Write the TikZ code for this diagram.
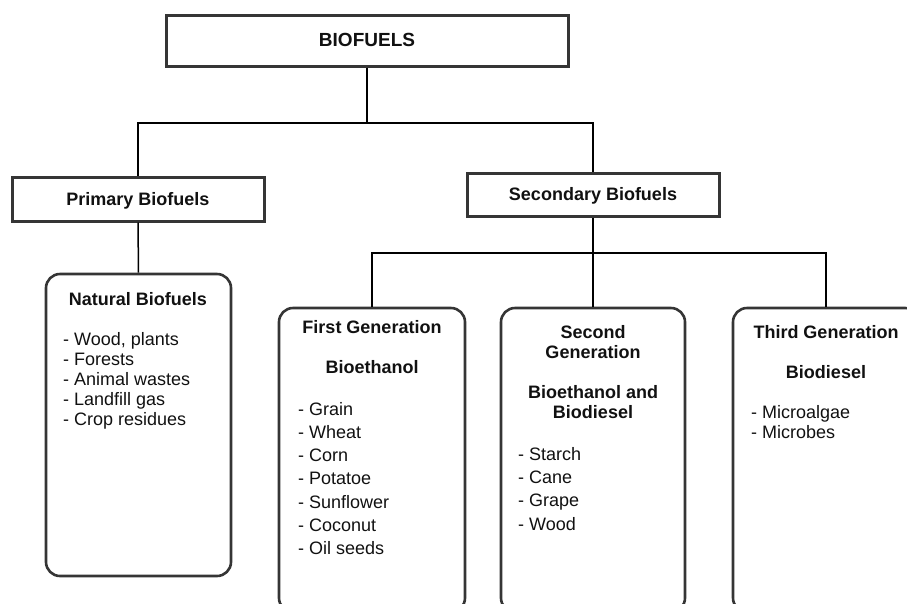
\documentclass[tikz,border=0pt]{standalone}
\usepackage{fontspec}
\setmainfont{Liberation Sans}
\definecolor{boxgray}{HTML}{353535}
\definecolor{inkc}{HTML}{111111}
\begin{document}
\begin{tikzpicture}[x=1pt,y=-1pt,
  hbox/.style={draw=boxgray, line width=3pt, inner sep=0pt, text=inkc,
    font=\fontsize{18}{20}\selectfont\bfseries, text height=12.9pt, text depth=0pt},
  gbox/.style={draw=boxgray, line width=2.6pt, rounded corners=14pt, inner sep=0pt},
  conn/.style={draw=black, line width=1.5pt},
  hd/.style={font=\fontsize{18}{20}\selectfont\bfseries, anchor=base, inner sep=0pt, text=inkc},
  itm/.style={font=\fontsize{18}{20}\selectfont, anchor=base west, inner sep=0pt, text=inkc},
]
\useasboundingbox (0,0) rectangle (907,603);
\clip (0,0) rectangle (907,603);

% top level boxes
\node[hbox, minimum width=402pt, minimum height=51pt, font=\fontsize{19}{20}\selectfont\bfseries] (bio) at (367,40.5) {BIOFUELS};
\node[hbox, minimum width=252pt, minimum height=44pt] (prim) at (138,199) {Primary Biofuels};
\node[hbox, minimum width=252pt, minimum height=43pt] (sec) at (593,194.5) {Secondary Biofuels};

% lower rounded boxes
\node[gbox, minimum width=185pt, minimum height=302pt] (nat) at (138.5,425) {};
\node[gbox, minimum width=186pt, minimum height=304pt] (g1) at (372,460) {};
\node[gbox, minimum width=184pt, minimum height=304pt] (g2) at (593,460) {};
\node[gbox, minimum width=186pt, minimum height=304pt] (g3) at (826,460) {};

% connectors
\coordinate (bar1) at (0,123);
\coordinate (bar2) at (0,253);
\draw[conn] (bio.south) -- (bio.south |- bar1);
\draw[conn] (prim.north) -- (prim.north |- bar1) -- (sec.north |- bar1) -- (sec.north);
\draw[conn] (prim.south) -- (nat.north);
\draw[conn] (sec.south) -- (sec.south |- bar2);
\draw[conn] (g1.north) -- (g1.north |- bar2) -- (g3.north |- bar2) -- (g3.north);
\draw[conn] (sec.south |- bar2) -- (g2.north);

% Natural Biofuels
\node[hd] (natt) at (138,305) {Natural Biofuels};
\foreach \t [count=\i] in {{- Wood, plants},{- Forests},{- Animal wastes},{- Landfill gas},{- Crop residues}}
  \node[itm] (nat-\i) at (63,{345+20*(\i-1)}) {\t};

% First Generation
\node[hd] (g1t) at (372,333.3) {First Generation};
\node[hd] (g1s) at (372,373.3) {Bioethanol};
\foreach \t [count=\i] in {{- Grain},{- Wheat},{- Corn},{- Potatoe},{- Sunflower},{- Coconut},{- Oil seeds}}
  \node[itm] (g1-\i) at (298,{415+23.33*(\i-1)}) {\t};

% Second Generation
\node[hd] (g2t) at (593,338.3) {Second};
\node[hd] (g2u) at (593,358.3) {Generation};
\node[hd] (g2s) at (593,398.3) {Bioethanol and};
\node[hd] (g2v) at (593,418.3) {Biodiesel};
\foreach \t [count=\i] in {{- Starch},{- Cane},{- Grape},{- Wood}}
  \node[itm] (g2-\i) at (518,{460+23.33*(\i-1)}) {\t};

% Third Generation
\node[hd] (g3t) at (826,338.3) {Third Generation};
\node[hd] (g3s) at (826,378.3) {Biodiesel};
\foreach \t [count=\i] in {{- Microalgae},{- Microbes}}
  \node[itm] (g3-\i) at (751,{418.3+20*(\i-1)}) {\t};
\end{tikzpicture}
\end{document}
